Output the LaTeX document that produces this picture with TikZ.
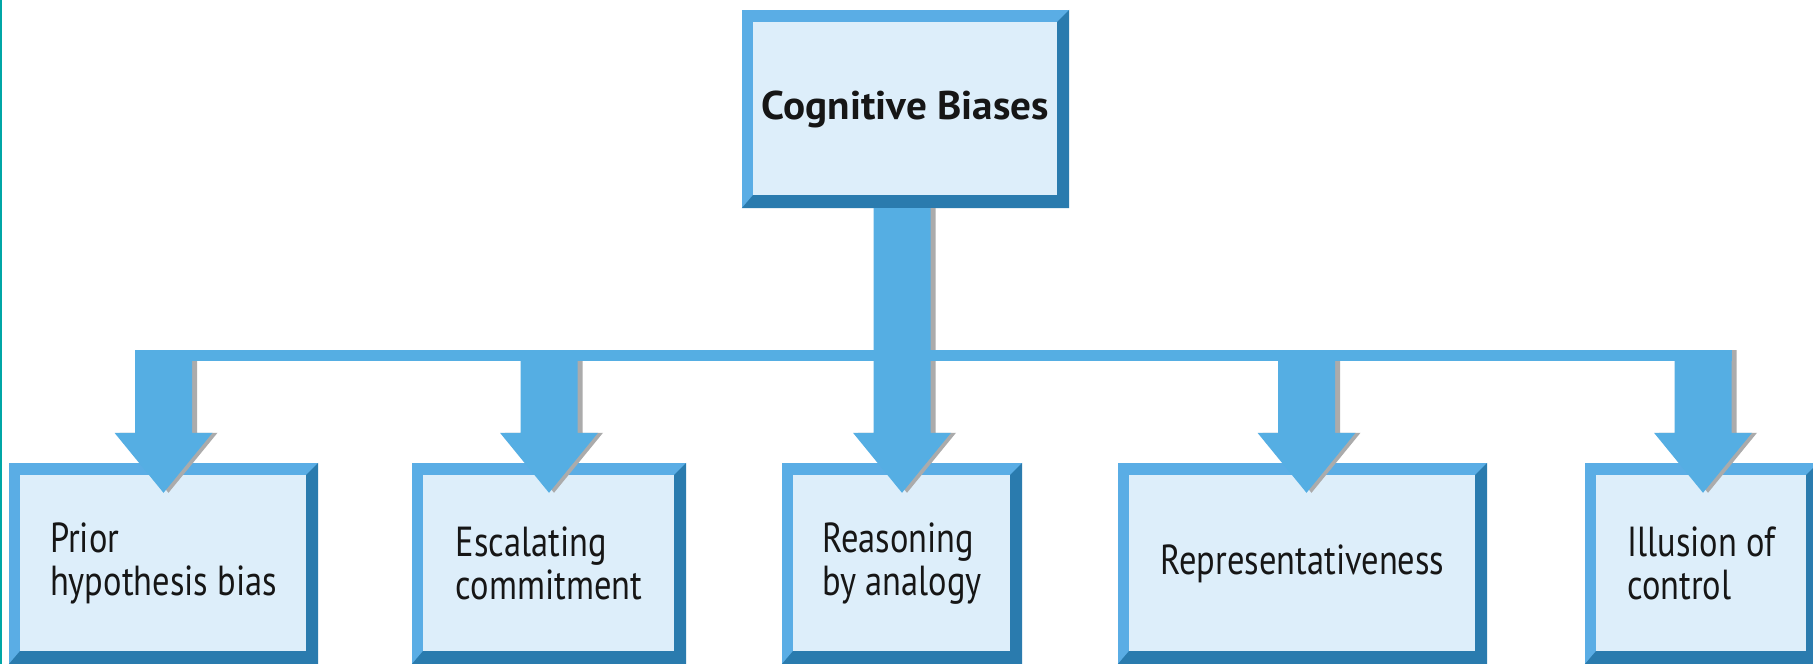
\documentclass[tikz,border=0pt]{standalone}
\usepackage{fontspec}
\setmainfont{PT Sans}[FakeStretch=0.82]
\newfontfamily\topfont{PT Sans}[FakeStretch=1.03]
\usetikzlibrary{calc,backgrounds}
\definecolor{arrowblue}{HTML}{55AEE3}
\definecolor{bevlight}{HTML}{5AADE5}
\definecolor{bevdark}{HTML}{2A7BAE}
\definecolor{boxfill}{HTML}{DDEEFA}
\definecolor{shadowgray}{HTML}{ABABAB}
\definecolor{textcol}{HTML}{161616}
\definecolor{edgeteal}{HTML}{00A6A6}
\tikzset{
  cbox/.style={rectangle, inner sep=0pt, align=left, text=textcol,
    font=\fontsize{42}{43}\selectfont},
  topbox/.style={rectangle, inner sep=0pt, align=center, text=textcol,
    font=\topfont\fontsize{40}{42}\selectfont\bfseries},
}
% bevelled frame behind a named node
\newcommand\bevelframe[1]{%
  \fill[bevlight] (#1.north west) rectangle (#1.south east);
  \fill[bevdark] (#1.north east) -- (#1.south east) -- (#1.south west)
    -- ([shift={(11.5pt,13.5pt)}]#1.south west)
    -- ([shift={(-12pt,13.5pt)}]#1.south east)
    -- ([shift={(-12pt,-12pt)}]#1.north east) -- cycle;
  \fill[boxfill] ([shift={(11.5pt,-12pt)}]#1.north west)
    rectangle ([shift={(-12pt,13.5pt)}]#1.south east);
}
% block arrow outline: #1 stem top, #2 tip, #3 horizontal offset
\newcommand\arrowpath[3]{%
  ([xshift=#3-28.5pt]#1) -- ([xshift=#3+28.5pt]#1)
  -- ([shift={(#3+28.5pt,60pt)}]#2) -- ([shift={(#3+49pt,60pt)}]#2)
  -- ([xshift=#3]#2) -- ([shift={(#3-49pt,60pt)}]#2)
  -- ([shift={(#3-28.5pt,60pt)}]#2) -- cycle}
\begin{document}
\begin{tikzpicture}[x=1pt,y=-1pt]
\useasboundingbox (0,0) rectangle (1813,664);
\clip (0,0) rectangle (1813,664);

% boxes (text)
\node[topbox, minimum width=327pt, minimum height=198pt] (top) at (905.5,109) {Cognitive Biases};
\node[cbox, minimum width=309pt, minimum height=201pt] (b1) at (163.5,563.5) {Prior\\hypothesis bias};
\node[cbox, minimum width=274pt, minimum height=201pt] (b2) at (549,563.5) {Escalating\\commitment};
\node[cbox, minimum width=240pt, minimum height=201pt] (b3) at (902,563.5) {Reasoning\\by analogy};
\node[cbox, minimum width=369pt, minimum height=201pt] (b4) at (1302.5,563.5) {Representativeness};
\node[cbox, minimum width=233pt, minimum height=201pt] (b5) at (1701.5,563.5) {Illusion of\\control};

\begin{pgfonlayer}{background}
  \fill[white] (0,0) rectangle (1813,664);
  \fill[edgeteal] (0,0) rectangle (1.6,664);
  \bevelframe{top}
  \bevelframe{b1}
  \bevelframe{b2}
  \bevelframe{b3}
  \bevelframe{b4}
  \bevelframe{b5}
\end{pgfonlayer}

% connector geometry
\coordinate (bartop) at (0,350);
\coordinate (s1) at (b1.north |- bartop);
\coordinate (s2) at (b2.north |- bartop);
\coordinate (s3) at (b3.north |- top.south);
\coordinate (s4) at ([xshift=4pt]b4.north |- bartop);
\coordinate (s5) at ([xshift=1.5pt]b5.north |- bartop);
\coordinate (t1) at ([yshift=-30pt]b1.north);
\coordinate (t2) at ([yshift=-30pt]b2.north);
\coordinate (t3) at ([yshift=-30pt]b3.north);
\coordinate (t4) at ([shift={(4pt,-30pt)}]b4.north);
\coordinate (t5) at ([shift={(1.5pt,-30pt)}]b5.north);

% shadows
\foreach \i in {1,2,3,4,5}{
  \fill[shadowgray] \arrowpath{s\i}{t\i}{5pt};
}
% horizontal bar
\fill[arrowblue] ([xshift=-28.5pt]s1) rectangle ([shift={(28.5pt,-11pt)}]s5);
% arrows
\foreach \i in {1,2,3,4,5}{
  \fill[arrowblue] \arrowpath{s\i}{t\i}{0pt};
}
\end{tikzpicture}
\end{document}
